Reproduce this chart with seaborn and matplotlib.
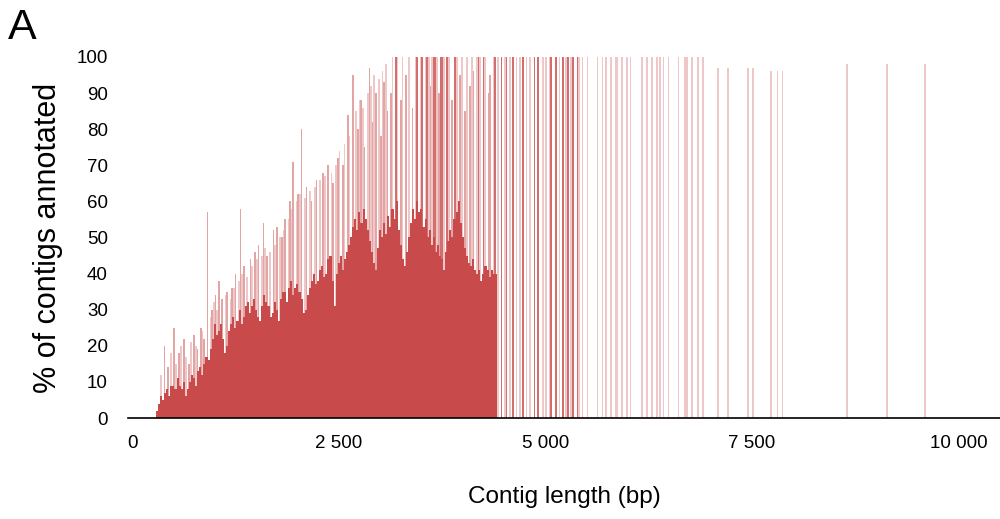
import numpy as np
import pandas as pd
import seaborn as sns
import matplotlib.pyplot as plt

# solid body of the distribution (25 bp length bins, 300..4400)
body_len = list(range(300, 4425, 25))
body_pct = [2, 4, 6, 5, 7, 8, 6, 9, 9, 8, 11, 9, 8, 10, 6, 8, 10, 12, 11, 9,
            13, 14, 12, 15, 17, 16, 19, 22, 26, 23, 24, 26, 22, 18, 20, 24, 26, 28, 25, 27,
            30, 26, 28, 31, 32, 29, 31, 33, 30, 28, 27, 31, 34, 32, 31, 28, 29, 32, 30, 27,
            33, 35, 35, 32, 36, 38, 34, 36, 37, 35, 33, 29, 30, 34, 36, 38, 40, 37, 38, 41,
            42, 39, 40, 44, 45, 38, 31, 40, 43, 45, 41, 44, 46, 48, 50, 53, 55, 52, 57, 54,
            58, 55, 52, 49, 46, 43, 41, 47, 52, 50, 54, 51, 56, 53, 58, 55, 60, 52, 48, 44,
            42, 46, 50, 54, 58, 55, 60, 57, 58, 53, 55, 50, 52, 48, 50, 46, 48, 45, 44, 41,
            46, 49, 52, 50, 55, 57, 60, 54, 50, 47, 45, 43, 42, 44, 41, 40, 41, 38, 40, 42,
            41, 39, 41, 40, 40]

# thin spikes above the body
spike_len = [390, 430, 508, 560, 620, 680, 740, 790, 830, 870, 905, 960, 1010, 1050, 1090,
             1150, 1200, 1250, 1306, 1350, 1420, 1480, 1530, 1580, 1630, 1705, 1750, 1800,
             1850, 1900, 1950, 2000, 2055, 2110, 2170, 2235, 2300, 2370, 2430, 2480, 2540,
             2600, 2670, 2720, 2770, 2810, 2860, 2900, 2950, 3000, 3040, 3090, 3120, 3250,
             3300, 3380, 3600, 3700, 3870, 3960, 4020, 4080, 4130, 4300, 4330]
spike_pct = [20, 14, 25, 18, 22, 15, 23, 19, 25, 22, 57, 30, 34, 38, 33,
             35, 36, 40, 58, 42, 44, 46, 48, 54, 45, 52, 53, 50,
             55, 60, 71, 62, 80, 64, 60, 66, 68, 70, 65, 72, 70,
             84, 95, 80, 88, 75, 97, 82, 90, 78, 93, 85, 90, 88,
             95, 86, 92, 90, 88, 95, 85, 92, 96, 90, 95]

# faint haze of single-contig lengths over the body
haze_len = [350, 460, 530, 590, 650, 710, 770, 850, 940, 990,
            1030, 1120, 1180, 1230, 1280, 1330, 1380, 1450, 1510, 1560,
            1610, 1660, 1730, 1780, 1830, 1880, 1930, 1980, 2030, 2080,
            2140, 2200, 2270, 2330, 2400, 2460, 2510, 2570, 2630, 2700,
            2750, 2790, 2840, 2880, 2930, 2980, 3020, 3060, 3150, 3210,
            3270, 3340, 3420, 3490, 3540, 3590, 3620, 3680, 3770, 3830,
            3930, 3990, 4050, 4110, 4160, 4210, 4270, 4360]
haze_pct = [12, 18, 15, 20, 17, 21, 20, 24, 28, 32,
            30, 34, 33, 36, 38, 40, 39, 42, 44, 45,
            47, 46, 48, 50, 52, 55, 58, 60, 62, 61,
            63, 64, 66, 67, 68, 70, 74, 76, 78, 85,
            88, 86, 90, 92, 95, 94, 96, 98, 100, 100,
            100, 100, 100, 100, 100, 100, 100, 100, 100, 100,
            100, 100, 100, 100, 100, 100, 100, 100]

# lengths where every contig was annotated
full_len = [3180, 3458, 3519, 3567, 3640, 3664, 3724, 3748, 3809, 3906, 4184, 4244, 4389,
            4474, 4534, 4607, 4728, 4873, 4909, 5079, 5139, 5200, 5272, 5333, 5381]
full_pct = [100] * len(full_len)

# pale lines (few contigs per length)
pale_len = [4420, 4500, 4570, 4650, 4690, 4770, 4810, 4960, 5010, 5040,
            5170, 5240, 5300, 5410, 5453, 5502, 5635, 5690, 5720, 5780,
            5841, 5877, 5925, 5985, 6022, 6179, 6227, 6295, 6348, 6385,
            6421, 6481, 6602, 6687, 6711, 6771, 6844, 6904,
            7086, 7207, 7449, 7500, 7739, 7811, 7872, 8658, 9129, 9589]
pale_pct = [100] * 38 + [97, 97, 97, 97, 96, 96, 96, 98, 98, 98]

xticks = [0, 2500, 5000, 7500, 10000]
xtick_labels = ['0', '2 500', '5 000', '7 500', '10 000']
yticks = list(range(0, 101, 10))

sns.set_style('white')
plt.rcParams['font.family'] = ['Liberation Sans', 'DejaVu Sans']
plt.rcParams['text.color'] = 'black'
plt.rcParams['axes.labelcolor'] = 'black'
plt.rcParams['xtick.color'] = 'black'
plt.rcParams['ytick.color'] = 'black'

red = '#c94a4b'
fig = plt.figure(figsize=(10, 5.19), dpi=100)
ax = fig.add_axes([0.128, 0.1946, 0.872, 0.6956])

layers = [
    (pale_len, pale_pct, 0.3),
    (haze_len, haze_pct, 0.3),
    (full_len, full_pct, 0.8),
    (spike_len, spike_pct, 0.5),
]
for lens, pcts, a in layers:
    sns.histplot(x=lens, weights=pcts, binwidth=20, binrange=(0, 10500),
                 color=red, alpha=a, linewidth=0, edgecolor='none', ax=ax)
sns.histplot(x=body_len, weights=body_pct, binwidth=25, binrange=(287.5, 4412.5),
             color=red, alpha=1, linewidth=0, edgecolor='none', ax=ax)

ax.set_xlim(-50, 10500)
ax.set_ylim(0, 100)
ax.set_xticks(xticks)
ax.set_xticklabels(xtick_labels)
ax.set_yticks(yticks)
ax.tick_params(axis='both', length=0, labelsize=13.5)
ax.tick_params(axis='x', pad=12)
ax.tick_params(axis='y', pad=14.5)
for s in ['top', 'right', 'left']:
    ax.spines[s].set_visible(False)
ax.spines['bottom'].set_color('black')
ax.spines['bottom'].set_linewidth(1.2)

ax.set_xlabel('Contig length (bp)', fontsize=17.5, labelpad=25)
ax.set_ylabel('% of contigs annotated', fontsize=22, labelpad=10)
fig.text(0.008, 0.925, 'A', fontsize=31)

plt.savefig('out.png', dpi=100)
